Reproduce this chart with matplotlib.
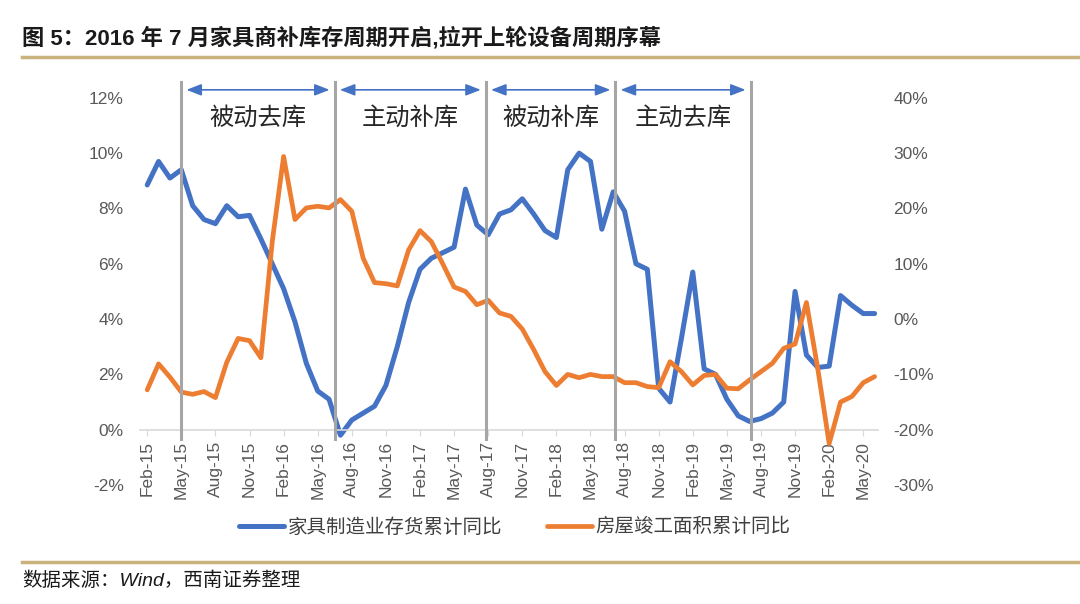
import matplotlib.pyplot as plt
import matplotlib.transforms as mtransforms
from matplotlib.lines import Line2D
from matplotlib.ticker import FuncFormatter
import numpy as np
import pandas as pd

plt.rcParams['font.family'] = ['Liberation Sans', 'Noto Sans CJK SC', 'DejaVu Sans']

# monthly, Feb-15 .. Jun-20
months = pd.date_range('2015-02-01', periods=65, freq='MS')

# 家具制造业存货累计同比 (%), left axis
furniture_inv = [
    8.85, 9.7, 9.1, 9.4, 8.1, 7.6, 7.45, 8.1, 7.7, 7.75,
    6.9, 6.0, 5.1, 3.9, 2.4, 1.4, 1.1, -0.2, 0.35, 0.6,
    0.85, 1.6, 3.0, 4.6, 5.8, 6.2, 6.4, 6.6, 8.7, 7.4,
    7.05, 7.8, 7.95, 8.35, 7.8, 7.2, 6.95, 9.4, 10.0, 9.7,
    7.25, 8.6, 7.9, 6.0, 5.8, 1.5, 1.0, 3.3, 5.7, 2.2,
    2.0, 1.1, 0.5, 0.3, 0.4, 0.6, 1.0, 5.0, 2.7, 2.25,
    2.3, 4.85, 4.5, 4.2, 4.2,
]

# 房屋竣工面积累计同比 (%), right axis
completed_area = [
    -12.8, -8.1, -10.5, -13.2, -13.6, -13.1, -14.2, -7.8, -3.5, -3.9,
    -7.0, 14.0, 29.4, 18.0, 20.1, 20.4, 20.1, 21.6, 19.5, 11.0,
    6.6, 6.4, 6.0, 12.5, 16.0, 14.0, 10.0, 5.8, 5.0, 2.6,
    3.4, 1.1, 0.5, -1.8, -5.5, -9.5, -12.0, -10.0, -10.6, -10.0,
    -10.4, -10.4, -11.5, -11.5, -12.2, -12.4, -7.7, -9.5, -11.9, -10.2,
    -10.0, -12.5, -12.6, -11.0, -9.5, -8.0, -5.3, -4.5, 3.0, -9.0,
    -22.5, -15.0, -14.0, -11.5, -10.4,
]

# inventory cycle phases (month index of the divider lines)
phase_lines = [3, 16.5, 29.8, 41.2, 53.1]
phase_names = ['被动去库', '主动补库', '被动补库', '主动去库']

title = '图 5：2016 年 7 月家具商补库存周期开启,拉开上轮设备周期序幕'
source = '数据来源：Wind，西南证券整理'

blue = '#4472C4'
orange = '#ED7D31'
gray_txt = '#595959'
gold = '#C9B27C'

fig = plt.figure(figsize=(10.8, 6.04), dpi=100)
ax = fig.add_axes([0.13, 0.197, 0.683, 0.641])
ax2 = ax.twinx()

x = np.arange(len(months))
l1, = ax.plot(x, furniture_inv, color=blue, lw=3.6,
              solid_joinstyle='round', solid_capstyle='round')
l2, = ax2.plot(x, completed_area, color=orange, lw=3.4,
               solid_joinstyle='round', solid_capstyle='round')

ax.set_xlim(-0.6, 64.3)
ax.set_ylim(-2, 12)
ax2.set_ylim(-30, 40)
ax.set_yticks(np.arange(-2, 13, 2))
ax2.set_yticks(np.arange(-30, 41, 10))
pct = FuncFormatter(lambda v, p: f'{v:.0f}%')
ax.yaxis.set_major_formatter(pct)
ax2.yaxis.set_major_formatter(pct)

for a in (ax, ax2):
    for s in ('top', 'left', 'right'):
        a.spines[s].set_visible(False)
ax2.spines['bottom'].set_visible(False)
ax.spines['bottom'].set_position(('data', 0))
ax.spines['bottom'].set_color('#D9D9D9')
ax.spines['bottom'].set_linewidth(1.2)

ax.set_xticks(x[::3])
ax.set_xticklabels(months[::3].strftime('%b-%y'), rotation=90)
ax.tick_params(axis='x', length=4, color='#D9D9D9', pad=4,
               labelsize=12.5, labelcolor=gray_txt)
ax.tick_params(axis='y', length=0, pad=12, labelsize=12.5, labelcolor=gray_txt)
ax2.tick_params(axis='y', length=0, pad=11, labelsize=12.5, labelcolor=gray_txt)

# phase dividers, arrows and names
trans = mtransforms.blended_transform_factory(ax2.transData, ax2.transAxes)
for pos in phase_lines:
    ax2.plot([pos, pos], [0.12, 1.041], transform=trans, color='#A6A6A6',
             lw=2.2, clip_on=False, zorder=5)
for i, name in enumerate(phase_names):
    a0, a1 = phase_lines[i] + 0.45, phase_lines[i + 1] - 0.45
    ax2.annotate('', xy=(a0, 1.0207), xytext=(a1, 1.0207), xycoords=trans,
                 annotation_clip=False,
                 arrowprops=dict(arrowstyle='<|-|>,head_length=0.9,head_width=0.35',
                                 color=blue, lw=1.2, shrinkA=0, shrinkB=0))
    ax2.text((phase_lines[i] + phase_lines[i + 1]) / 2, 0.948, name,
             transform=trans, ha='center', va='center', fontsize=17.5,
             family=['Noto Sans CJK SC'], color='#262626')

# header / footer
fig.text(22 / 1080, 1 - 38 / 604, title, fontsize=16, weight='bold',
         ha='left', va='center', color='#1a1a1a')
fig.add_artist(Line2D([22 / 1080, 1], [1 - 57 / 604] * 2,
                      transform=fig.transFigure, color=gold, lw=2.5))
fig.add_artist(Line2D([22 / 1080, 1], [1 - 562 / 604] * 2,
                      transform=fig.transFigure, color=gold, lw=2.5))
fig.text(22 / 1080, 1 - 581 / 604, source, fontsize=14, style='italic',
         ha='left', va='center', color='#1a1a1a')

leg = fig.legend([l1, l2], ['家具制造业存货累计同比', '房屋竣工面积累计同比'],
                 loc='center', bbox_to_anchor=(515 / 1080, 1 - 527 / 604),
                 ncol=2, frameon=False, handlelength=2.3, handletextpad=0.2,
                 columnspacing=2.3, prop={'family': ['Noto Sans CJK SC'], 'size': 14})
for t in leg.get_texts():
    t.set_color('#404040')

fig.savefig('out.png', dpi=100)
